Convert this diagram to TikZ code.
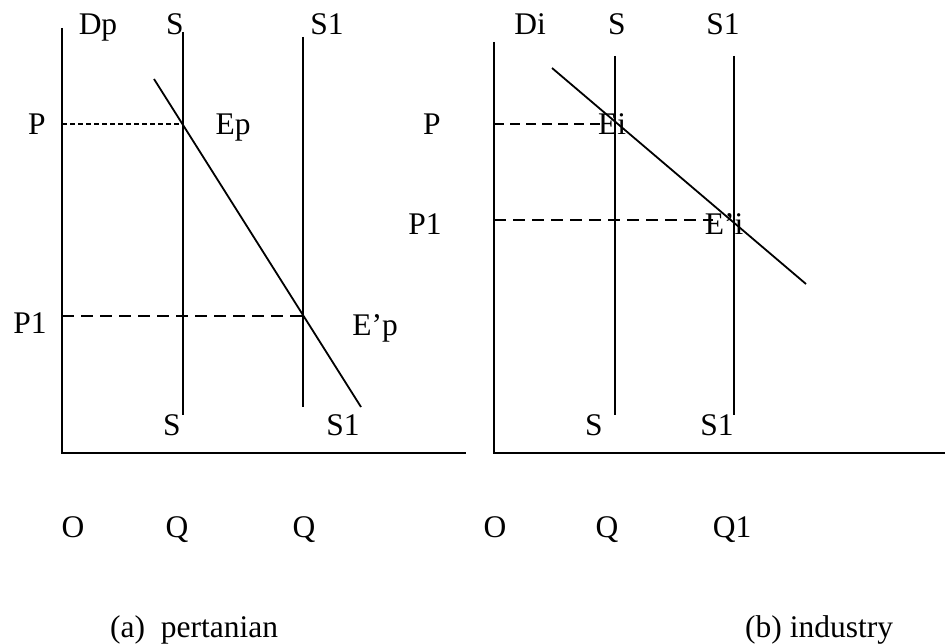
\documentclass[tikz,border=0pt]{standalone}
\usepackage{fontspec}
\setmainfont{Liberation Serif}
\begin{document}
\begin{tikzpicture}[x=1pt,y=-1pt,
  every node/.style={font=\fontsize{31.5}{36}\selectfont, inner sep=0pt},
  lbl/.style={anchor=base},
  axisline/.style={line width=2pt},
  curveline/.style={line width=1.8pt},
  dshort/.style={line width=1.4pt, dash pattern=on 5pt off 3pt},
  dlong/.style={line width=1.6pt, dash pattern=on 12pt off 7pt}]
\useasboundingbox (0,0) rectangle (947,644);

% ---------- left panel ----------
\coordinate (LYt) at (62,28);
\coordinate (LO)  at (62,453);
\coordinate (LXe) at (466,453);
\coordinate (LSt) at (183,32);
\coordinate (LSb) at (183,415);
\coordinate (LS1t) at (303,37);
\coordinate (LS1b) at (303,407);
\coordinate (LDt) at (154,79);
\coordinate (LDb) at (361,407);
\coordinate (LPa) at (62,124);
\coordinate (LPb) at (183,124);
\coordinate (LP1a) at (62,316);
\coordinate (LP1b) at (303,316);

\draw[axisline] (LYt) -- (LO) -- (LXe);
\draw[curveline] (LSt) -- (LSb);
\draw[curveline] (LS1t) -- (LS1b);
\draw[curveline] (LDt) -- (LDb);
\draw[dshort] (LPa) -- (LPb);
\draw[dlong] (LP1a) -- (LP1b);

\node[lbl] (lDp) at (98,35) {Dp};
\node[lbl] (lS) at (175,35) {S};
\node[lbl] (lS1) at (327,35) {S1};
\node[lbl] (lP) at (37,135) {P};
\node[lbl] (lEp) at (233,135) {Ep};
\node[lbl] (lP1) at (30,333) {P1};
\node[lbl] (lE1p) at (375,335) {E’p};
\node[lbl] (lSb) at (172,435) {S};
\node[lbl] (lS1b) at (343,435) {S1};
\node[lbl] (lO) at (73,537) {O};
\node[lbl] (lQ) at (177,537) {Q};
\node[lbl] (lQb) at (304,537) {Q};
\node[anchor=base west] (capa) at (110,637) {(a)\ \ pertanian};

% ---------- right panel ----------
\coordinate (RYt) at (494,42);
\coordinate (RO)  at (494,453);
\coordinate (RXe) at (945,453);
\coordinate (RSt) at (615,56);
\coordinate (RSb) at (615,415);
\coordinate (RS1t) at (734,56);
\coordinate (RS1b) at (734,415);
\coordinate (RDt) at (552,68);
\coordinate (RDb) at (806,284);
\coordinate (RPa) at (494,124);
\coordinate (RPb) at (604,124);
\coordinate (RP1a) at (494,220);
\coordinate (RP1b) at (713,220);

\draw[axisline] (RYt) -- (RO) -- (RXe);
\draw[curveline] (RSt) -- (RSb);
\draw[curveline] (RS1t) -- (RS1b);
\draw[curveline] (RDt) -- (RDb);
\draw[dlong, dash pattern=on 10pt off 6pt] (RPa) -- (RPb);
\draw[dlong] (RP1a) -- (RP1b);

\node[lbl] (rDi) at (530,35) {Di};
\node[lbl] (rS) at (617,35) {S};
\node[lbl] (rS1) at (723,35) {S1};
\node[lbl] (rP) at (432,135) {P};
\node[lbl] (rEi) at (612,135) {Ei};
\node[lbl] (rP1) at (425,235) {P1};
\node[lbl] (rE1i) at (724,235) {E’i};
\node[lbl] (rSb) at (594,435) {S};
\node[lbl] (rS1b) at (717,435) {S1};
\node[lbl] (rO) at (495,537) {O};
\node[lbl] (rQ) at (607,537) {Q};
\node[lbl] (rQ1) at (732,537) {Q1};
\node[anchor=base west] (capb) at (745,637) {(b) industry};
\end{tikzpicture}
\end{document}
